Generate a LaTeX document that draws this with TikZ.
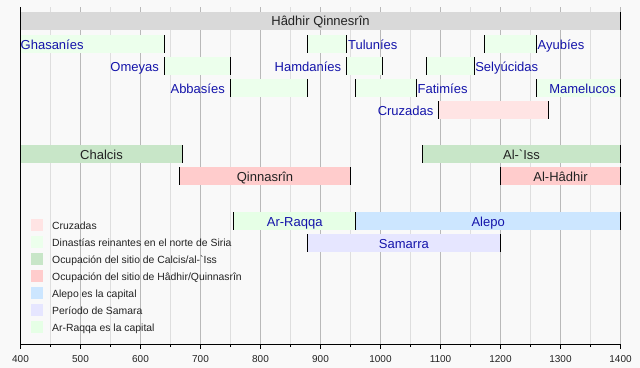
\documentclass[tikz,border=0pt]{standalone}
\usepackage{fontspec}
\setmainfont{Liberation Sans}

\definecolor{bgcol}{RGB}{249,249,249}
\definecolor{titlebar}{RGB}{217,217,217}
\definecolor{dynasty}{RGB}{236,255,236}
\definecolor{chalcis}{RGB}{200,230,200}
\definecolor{qinnasrin}{RGB}{255,204,204}
\definecolor{crusade}{RGB}{255,228,228}
\definecolor{aleppo}{RGB}{204,230,255}
\definecolor{samarra}{RGB}{230,230,255}
\definecolor{raqqa}{RGB}{230,255,230}
\definecolor{gridmajor}{RGB}{185,185,185}
\definecolor{gridminor}{RGB}{222,222,222}
\definecolor{labelblue}{RGB}{20,20,170}
\definecolor{labeldark}{RGB}{34,34,34}

\begin{document}
\begin{tikzpicture}[x=0.6pt, y=-1pt, shift={(-219.5pt,0pt)},
    barname/.style={font=\fontsize{13}{15}\selectfont, text=labelblue, inner sep=0pt},
    sitename/.style={font=\fontsize{13}{15}\selectfont, text=labeldark, inner sep=0pt},
    endtick/.style={black, line width=1pt},
    gridmaj/.style={gridmajor, line width=0.8pt},
    gridmin/.style={gridminor, line width=0.8pt},
    legtext/.style={font=\fontsize{10.4}{12}\selectfont, text=labeldark, anchor=base west, inner sep=0pt},
    yearlab/.style={font=\fontsize{10}{12}\selectfont, text=labeldark, anchor=base, inner sep=0pt}]
    % Page background, fixes the bounding box (640 x 368)
    \fill[bgcol] (365.833,0) rectangle (1432.5,368);

    % Grid lines every 50 years
    \foreach \yr in {450,550,...,1350}
        \draw[gridmin] (\yr,7) -- (\yr,344);
    \foreach \yr in {500,600,...,1400}
        \draw[gridmaj] (\yr,7) -- (\yr,344);

    % Bars: start/end/row centre/colour
    \foreach \s/\e/\r/\c in {
        400/1400/21/titlebar,
        400/640/44/dynasty, 878/944/44/dynasty, 1174/1260/44/dynasty,
        640/750/66/dynasty, 944/1003/66/dynasty, 1077/1156/66/dynasty,
        750/878/88/dynasty, 959/1060/88/dynasty, 1260/1400/88/dynasty,
        1096/1280/110/crusade,
        400/670/154/chalcis, 1070/1400/154/chalcis,
        665/950/176/qinnasrin, 1200/1400/176/qinnasrin,
        755/959/221/raqqa, 959/1400/221/aleppo,
        878/1200/243/samarra}
        \fill[\c] (\s,\r-9) rectangle (\e,\r+9);

    % Black marks at the ends of the bars
    \foreach \t/\r in {1400/21,
        640/44, 878/44, 944/44, 1174/44, 1260/44,
        640/66, 750/66, 944/66, 1003/66, 1077/66, 1156/66,
        750/88, 878/88, 959/88, 1060/88, 1260/88, 1400/88,
        1096/110, 1280/110,
        670/154, 1070/154, 1400/154,
        665/176, 950/176, 1200/176, 1400/176,
        755/221, 959/221, 1400/221,
        878/243, 1200/243}
        \draw[endtick] (\t,\r-9) -- (\t,\r+9);

    % Bar labels
    \node[sitename, anchor=base] (hadhirq) at (900,25.8) {Hâdhir Qinnesrîn};
    \node[barname, anchor=base west] (ghasanies) at (400,49.3) {Ghasaníes};
    \node[barname, anchor=base west, xshift=1pt] (tulunies) at (944,49.3) {Tuluníes};
    \node[barname, anchor=base west, xshift=1pt] (ayubies) at (1260,49.3) {Ayubíes};
    \node[barname, anchor=base east, xshift=-5.5pt] (omeyas) at (640,71.3) {Omeyas};
    \node[barname, anchor=base east, xshift=-5.5pt] (hamdanies) at (944,71.3) {Hamdaníes};
    \node[barname, anchor=base west, xshift=1pt] (selyucidas) at (1156,71.3) {Selyúcidas};
    \node[barname, anchor=base east, xshift=-5.5pt] (abbasies) at (750,93.3) {Abbasíes};
    \node[barname, anchor=base west, xshift=1pt] (fatimies) at (1060,93.3) {Fatimíes};
    \node[barname, anchor=base east, xshift=-4.5pt] (mamelucos) at (1400,93.3) {Mamelucos};
    \node[barname, anchor=base east, xshift=-4.5pt] (cruzadas) at (1096,115.3) {Cruzadas};
    \node[sitename, anchor=base] (chalcis) at (535,159.6) {Chalcis};
    \node[sitename, anchor=base] (aliss) at (1235,159.6) {Al-\textasciigrave Iss};
    \node[sitename, anchor=base] (qinnasrin) at (807.5,181.6) {Qinnasrîn};
    \node[sitename, anchor=base] (alhadhir) at (1300,181.6) {Al-Hâdhir};
    \node[barname, anchor=base] (arraqqa) at (857,226.6) {Ar-Raqqa};
    \node[barname, anchor=base] (alepo) at (1179.5,226.6) {Alepo};
    \node[barname, anchor=base] (samarra) at (1039,248.6) {Samarra};

    % Legend
    \foreach \c/\txt [count=\i from 0] in {
        crusade/Cruzadas,
        dynasty/Dinastías reinantes en el norte de Siria,
        chalcis/Ocupación del sitio de Calcis\slash al-\textasciigrave Iss,
        qinnasrin/Ocupación del sitio de Hâdhir\slash Quinnasrîn,
        aleppo/Alepo es la capital,
        samarra/Período de Samara,
        raqqa/Ar-Raqqa es la capital}
    {
        \fill[\c] (418.3,218.5+17*\i) rectangle (436.7,230.5+17*\i);
        \node[legtext] (leg\i) at (452.5,229.3+17*\i) {\txt};
    }

    % Time axis
    \draw[black, line width=0.9pt] (400,7) -- (400,344) -- (1400,344);
    \foreach \yr in {450,550,...,1350}
        \draw[black, line width=0.8pt] (\yr,344) -- (\yr,347);
    \foreach \yr in {400,500,...,1400}
    {
        \draw[black, line width=0.8pt] (\yr,344) -- (\yr,349);
        \node[yearlab] (year\yr) at (\yr,362.8) {\yr};
    }
\end{tikzpicture}
\end{document}
